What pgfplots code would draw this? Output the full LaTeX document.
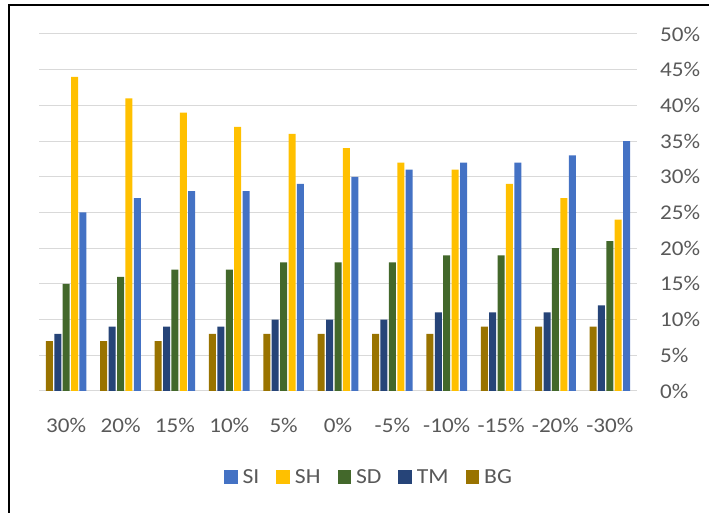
\documentclass[border=0pt]{standalone}
\usepackage{pgfplots}
\pgfplotsset{compat=1.18}
\usepackage{fontspec}
\setmainfont{Carlito}[FakeStretch=1.1]
\definecolor{cSI}{HTML}{4472C4}
\definecolor{cSH}{HTML}{FFC000}
\definecolor{cSD}{HTML}{43682B}
\definecolor{cTM}{HTML}{264478}
\definecolor{cBG}{HTML}{997300}
\definecolor{txt}{HTML}{595959}
\definecolor{grd}{HTML}{D9D9D9}
\begin{document}
\begin{tikzpicture}[x=1pt,y=1pt]
\path[use as bounding box] (0,0) rectangle (709,513);
\draw[line width=1.3pt] (9,0) -- (9,508) -- (709,508);
\begin{axis}[
  at={(39pt,122pt)}, anchor=south west,
  scale only axis, width=598pt, height=357pt,
  ybar=1.4pt, bar width=7pt,
  xmin=-0.5, xmax=10.5, ymin=0, ymax=50,
  xtick=data,
  xticklabels={30\%,20\%,15\%,10\%,5\%,0\%,-5\%,-10\%,-15\%,-20\%,-30\%},
  ytick={0,5,...,50},
  yticklabel={\pgfmathprintnumber{\tick}\%},
  /pgf/number format/assume math mode=true,
  yticklabel pos=right,
  major tick length=0pt,
  axis line style={draw=none},
  ymajorgrids, grid style={color=grd, line width=1pt},
  ticklabel style={font=\fontsize{21}{24}\selectfont, text=txt},
  yticklabel style={anchor=west, inner sep=0pt, xshift=23pt},
  xticklabel style={anchor=center, inner sep=0pt, yshift=-34pt},
  legend style={at={(0.5502,-0.2409)}, anchor=center, legend columns=5, draw=none,
    font=\fontsize{21.5}{24}\selectfont, text=txt,
    nodes={inner sep=0pt},
    /tikz/every odd column/.append style={column sep=5pt},
    /tikz/every even column/.append style={column sep=17pt}},
  legend image code/.code={\fill[#1] (0pt,-6.75pt) rectangle (13.5pt,6.75pt);},
  reverse legend,
]
\addplot[fill=cBG, draw=none] coordinates {(0,7)(1,7)(2,7)(3,8)(4,8)(5,8)(6,8)(7,8)(8,9)(9,9)(10,9)};
\addplot[fill=cTM, draw=none] coordinates {(0,8)(1,9)(2,9)(3,9)(4,10)(5,10)(6,10)(7,11)(8,11)(9,11)(10,12)};
\addplot[fill=cSD, draw=none] coordinates {(0,15)(1,16)(2,17)(3,17)(4,18)(5,18)(6,18)(7,19)(8,19)(9,20)(10,21)};
\addplot[fill=cSH, draw=none] coordinates {(0,44)(1,41)(2,39)(3,37)(4,36)(5,34)(6,32)(7,31)(8,29)(9,27)(10,24)};
\addplot[fill=cSI, draw=none] coordinates {(0,25)(1,27)(2,28)(3,28)(4,29)(5,30)(6,31)(7,32)(8,32)(9,33)(10,35)};
\legend{BG,TM,SD,SH,SI}
\end{axis}
\end{tikzpicture}
\end{document}
